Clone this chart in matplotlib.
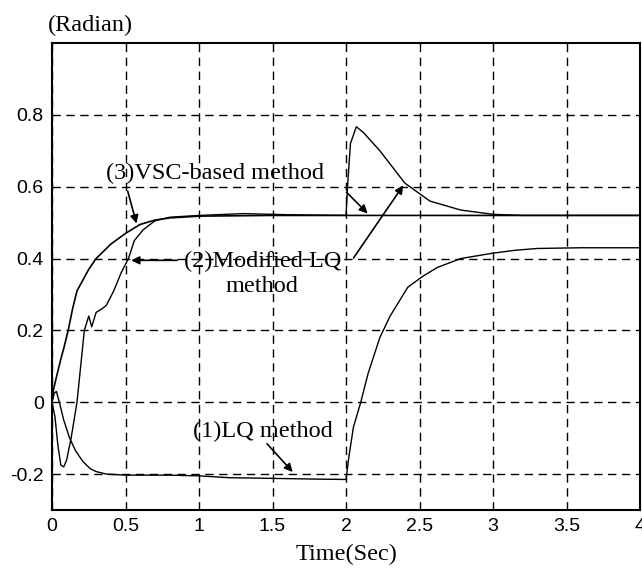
import matplotlib.pyplot as plt

# (1) LQ method
t_lq = [0, 0.015, 0.03, 0.05, 0.08, 0.12, 0.16, 0.21, 0.26, 0.3, 0.37, 0.5, 0.8, 1.0, 1.2, 1.5,
        1.8, 2.0, 2.02, 2.05, 2.1, 2.15, 2.23, 2.3, 2.42, 2.52, 2.62, 2.78, 3.0, 3.15, 3.3, 3.6, 4.0]
y_lq = [0, 0.025, 0.03, 0.0, -0.05, -0.1, -0.135, -0.165, -0.185, -0.193, -0.2, -0.203, -0.203,
        -0.205, -0.21, -0.212, -0.214, -0.215, -0.15, -0.07, 0.0, 0.08, 0.18, 0.24, 0.32, 0.35,
        0.375, 0.4, 0.415, 0.423, 0.428, 0.43, 0.43]

# (2) Modified LQ method
t_mlq = [0, 0.02, 0.04, 0.06, 0.08, 0.1, 0.13, 0.17, 0.2, 0.22, 0.25, 0.27, 0.3, 0.34, 0.37, 0.42,
         0.47, 0.52, 0.56, 0.62, 0.7, 0.8, 1.0, 1.3, 1.6, 2.0, 2.01, 2.03, 2.07, 2.12, 2.23, 2.4,
         2.57, 2.78, 3.0, 3.2, 4.0]
y_mlq = [0, -0.04, -0.12, -0.175, -0.18, -0.16, -0.1, 0.0, 0.12, 0.2, 0.24, 0.21, 0.25, 0.26,
         0.27, 0.31, 0.36, 0.40, 0.45, 0.48, 0.505, 0.515, 0.52, 0.525, 0.522, 0.52, 0.6, 0.72,
         0.767, 0.75, 0.70, 0.61, 0.56, 0.535, 0.523, 0.52, 0.52]

# (3) VSC-based method
t_vsc = [0, 0.01, 0.03, 0.06, 0.08, 0.11, 0.14, 0.17, 0.21, 0.25, 0.3, 0.4, 0.5, 0.6, 0.7, 0.8,
         1.0, 1.5, 2.0, 3.0, 4.0]
y_vsc = [0, 0.035, 0.07, 0.12, 0.15, 0.2, 0.26, 0.31, 0.34, 0.37, 0.40, 0.44, 0.47, 0.495,
         0.507, 0.513, 0.518, 0.52, 0.52, 0.52, 0.52]

xticks = [0, 0.5, 1, 1.5, 2, 2.5, 3, 3.5, 4]
xticklabels = ['0', '0.5', '1', '1.5', '2', '2.5', '3', '3.5', '4']
yticks = [-0.2, 0, 0.2, 0.4, 0.6, 0.8]
yticklabels = ['-0.2', '0', '0.2', '0.4', '0.6', '0.8']

serif = 'Liberation Serif'
sans = 'Liberation Sans'

fig = plt.figure(figsize=(6.42, 5.74), dpi=100)
ax = fig.add_axes([0.081, 0.1115, 0.916, 0.8136])

ax.plot(t_lq, y_lq, color='black', lw=1.0)
ax.plot(t_mlq, y_mlq, color='black', lw=1.0)
ax.plot(t_vsc, y_vsc, color='black', lw=1.2)

ax.set_xlim(0, 4)
ax.set_ylim(-0.3, 1.0)
ax.set_xticks(xticks)
ax.set_xticklabels(xticklabels, fontname=sans, fontsize=14)
ax.set_yticks(yticks)
ax.set_yticklabels(yticklabels, fontname=sans, fontsize=14)
ax.tick_params(direction='in', length=0, pad=6)
ax.grid(True, color='black', linestyle=(0, (6, 4)), lw=1.0)
for s in ax.spines.values():
    s.set_linewidth(1.5)

ax.set_xlabel('Time(Sec)', fontname=serif, fontsize=17.5, labelpad=6)
fig.text(0.075, 0.956, '(Radian)', fontname=serif, fontsize=17.5, ha='left', va='center')

arrow = dict(arrowstyle='-|>', color='black', lw=1.2, mutation_scale=12)
fs = 17.5

# (3) label with two arrows
ax.text(0.37, 0.637, '(3)VSC-based method', fontname=serif, fontsize=fs, ha='left', va='center')
ax.annotate('', xy=(0.58, 0.49), xytext=(0.51, 0.595), arrowprops=arrow)
ax.annotate('', xy=(2.16, 0.52), xytext=(1.99, 0.59), arrowprops=arrow)

# (2) label
ax.text(1.43, 0.357, '(2)Modified LQ\nmethod', fontname=serif, fontsize=fs, ha='center', va='center',
        linespacing=1.2)
ax.annotate('', xy=(0.52, 0.395), xytext=(0.87, 0.395), arrowprops=arrow)
ax.annotate('', xy=(2.40, 0.61), xytext=(2.04, 0.395), arrowprops=arrow)

# (1) label
ax.text(1.435, -0.08, '(1)LQ method', fontname=serif, fontsize=fs, ha='center', va='center')
ax.annotate('', xy=(1.65, -0.2), xytext=(1.45, -0.11), arrowprops=arrow)

fig.savefig('out.png', dpi=100)
